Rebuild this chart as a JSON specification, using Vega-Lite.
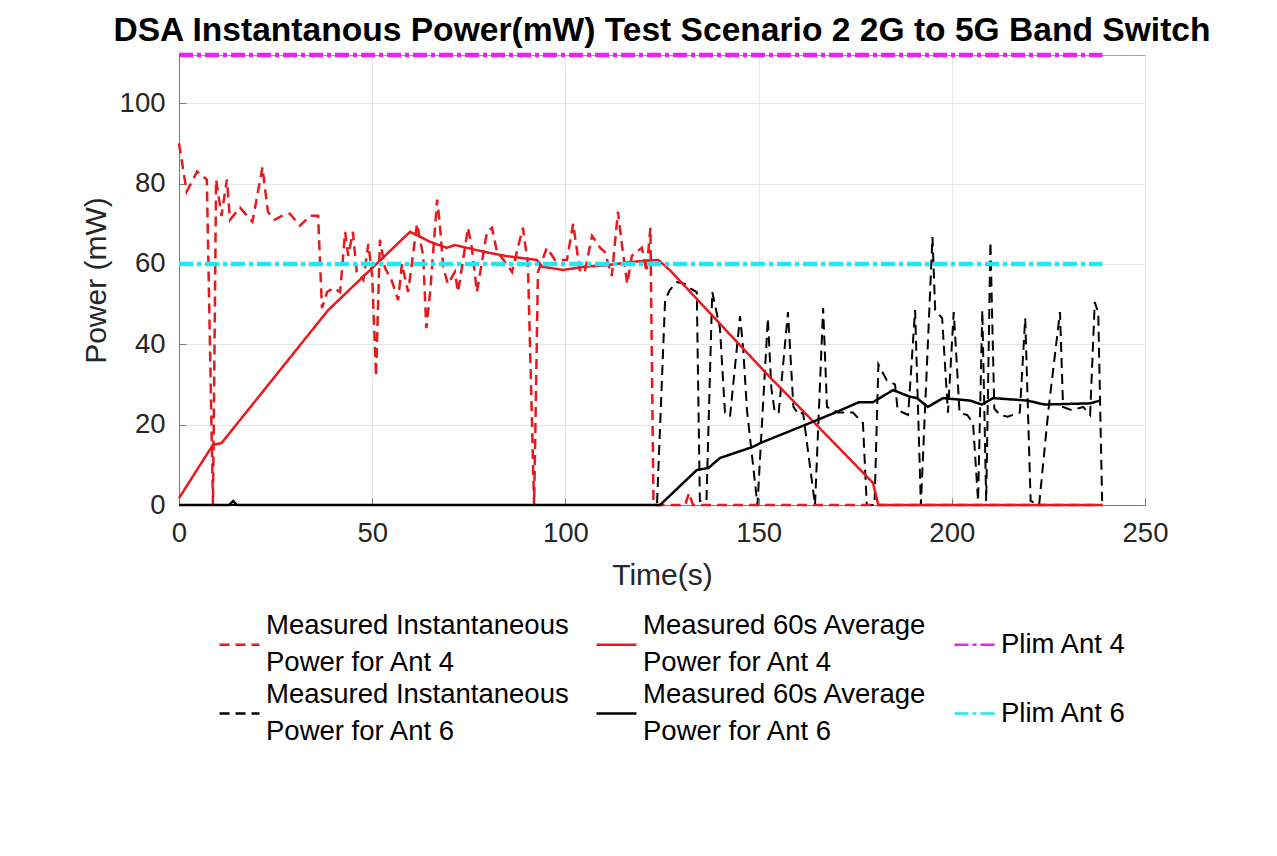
{
  "$schema": "https://vega.github.io/schema/vega-lite/v6.json",
  "width": 966,
  "height": 450,
  "autosize": "none",
  "padding": {"left": 179, "top": 55, "right": 132, "bottom": 351},
  "background": "white",
  "title": {"text": "DSA Instantanous Power(mW) Test Scenario 2 2G to 5G Band Switch", "font": "Liberation Sans", "fontSize": 33.6, "fontWeight": "bold", "color": "black", "anchor": "middle", "offset": -2},
  "config": {"view": {"stroke": "#a0a0a0", "strokeWidth": 1}, "font": "Liberation Sans"},
  "data": {"values": [
    {"series": "Measured Instantaneous|Power for Ant 4", "t": 0, "v": 90},
    {"series": "Measured Instantaneous|Power for Ant 4", "t": 2, "v": 78},
    {"series": "Measured Instantaneous|Power for Ant 4", "t": 4.7, "v": 83},
    {"series": "Measured Instantaneous|Power for Ant 4", "t": 7.2, "v": 81},
    {"series": "Measured Instantaneous|Power for Ant 4", "t": 8.8, "v": 0},
    {"series": "Measured Instantaneous|Power for Ant 4", "t": 9.6, "v": 81},
    {"series": "Measured Instantaneous|Power for Ant 4", "t": 11, "v": 72},
    {"series": "Measured Instantaneous|Power for Ant 4", "t": 12.4, "v": 81},
    {"series": "Measured Instantaneous|Power for Ant 4", "t": 13.2, "v": 71},
    {"series": "Measured Instantaneous|Power for Ant 4", "t": 15.8, "v": 74},
    {"series": "Measured Instantaneous|Power for Ant 4", "t": 19, "v": 70.5},
    {"series": "Measured Instantaneous|Power for Ant 4", "t": 21.6, "v": 84},
    {"series": "Measured Instantaneous|Power for Ant 4", "t": 23, "v": 73},
    {"series": "Measured Instantaneous|Power for Ant 4", "t": 24.8, "v": 71},
    {"series": "Measured Instantaneous|Power for Ant 4", "t": 26.7, "v": 72},
    {"series": "Measured Instantaneous|Power for Ant 4", "t": 28.7, "v": 72.5},
    {"series": "Measured Instantaneous|Power for Ant 4", "t": 31.3, "v": 69.5},
    {"series": "Measured Instantaneous|Power for Ant 4", "t": 34, "v": 72},
    {"series": "Measured Instantaneous|Power for Ant 4", "t": 36, "v": 72},
    {"series": "Measured Instantaneous|Power for Ant 4", "t": 37, "v": 49},
    {"series": "Measured Instantaneous|Power for Ant 4", "t": 38.3, "v": 53},
    {"series": "Measured Instantaneous|Power for Ant 4", "t": 40, "v": 54},
    {"series": "Measured Instantaneous|Power for Ant 4", "t": 41.7, "v": 53},
    {"series": "Measured Instantaneous|Power for Ant 4", "t": 43, "v": 68},
    {"series": "Measured Instantaneous|Power for Ant 4", "t": 43.8, "v": 62},
    {"series": "Measured Instantaneous|Power for Ant 4", "t": 45, "v": 68},
    {"series": "Measured Instantaneous|Power for Ant 4", "t": 46, "v": 58},
    {"series": "Measured Instantaneous|Power for Ant 4", "t": 47.7, "v": 56},
    {"series": "Measured Instantaneous|Power for Ant 4", "t": 49, "v": 65},
    {"series": "Measured Instantaneous|Power for Ant 4", "t": 50, "v": 57},
    {"series": "Measured Instantaneous|Power for Ant 4", "t": 51, "v": 32},
    {"series": "Measured Instantaneous|Power for Ant 4", "t": 52, "v": 66},
    {"series": "Measured Instantaneous|Power for Ant 4", "t": 53.3, "v": 59},
    {"series": "Measured Instantaneous|Power for Ant 4", "t": 55, "v": 56},
    {"series": "Measured Instantaneous|Power for Ant 4", "t": 56.7, "v": 51},
    {"series": "Measured Instantaneous|Power for Ant 4", "t": 57.7, "v": 60},
    {"series": "Measured Instantaneous|Power for Ant 4", "t": 59.3, "v": 53},
    {"series": "Measured Instantaneous|Power for Ant 4", "t": 61.6, "v": 70},
    {"series": "Measured Instantaneous|Power for Ant 4", "t": 63.2, "v": 62},
    {"series": "Measured Instantaneous|Power for Ant 4", "t": 64, "v": 44},
    {"series": "Measured Instantaneous|Power for Ant 4", "t": 65, "v": 53},
    {"series": "Measured Instantaneous|Power for Ant 4", "t": 66.8, "v": 76},
    {"series": "Measured Instantaneous|Power for Ant 4", "t": 67.5, "v": 70},
    {"series": "Measured Instantaneous|Power for Ant 4", "t": 68.4, "v": 59},
    {"series": "Measured Instantaneous|Power for Ant 4", "t": 69.6, "v": 55},
    {"series": "Measured Instantaneous|Power for Ant 4", "t": 71.4, "v": 58},
    {"series": "Measured Instantaneous|Power for Ant 4", "t": 72.2, "v": 53},
    {"series": "Measured Instantaneous|Power for Ant 4", "t": 73.2, "v": 59},
    {"series": "Measured Instantaneous|Power for Ant 4", "t": 74.8, "v": 69},
    {"series": "Measured Instantaneous|Power for Ant 4", "t": 75.8, "v": 64},
    {"series": "Measured Instantaneous|Power for Ant 4", "t": 77.1, "v": 53},
    {"series": "Measured Instantaneous|Power for Ant 4", "t": 79.7, "v": 68},
    {"series": "Measured Instantaneous|Power for Ant 4", "t": 81, "v": 69},
    {"series": "Measured Instantaneous|Power for Ant 4", "t": 82.3, "v": 63},
    {"series": "Measured Instantaneous|Power for Ant 4", "t": 84, "v": 61},
    {"series": "Measured Instantaneous|Power for Ant 4", "t": 86.2, "v": 58},
    {"series": "Measured Instantaneous|Power for Ant 4", "t": 87.7, "v": 64},
    {"series": "Measured Instantaneous|Power for Ant 4", "t": 89, "v": 69},
    {"series": "Measured Instantaneous|Power for Ant 4", "t": 90.3, "v": 60},
    {"series": "Measured Instantaneous|Power for Ant 4", "t": 91.9, "v": 0},
    {"series": "Measured Instantaneous|Power for Ant 4", "t": 92.9, "v": 58},
    {"series": "Measured Instantaneous|Power for Ant 4", "t": 95.2, "v": 64},
    {"series": "Measured Instantaneous|Power for Ant 4", "t": 97.3, "v": 61},
    {"series": "Measured Instantaneous|Power for Ant 4", "t": 100.4, "v": 61},
    {"series": "Measured Instantaneous|Power for Ant 4", "t": 102, "v": 70},
    {"series": "Measured Instantaneous|Power for Ant 4", "t": 103.8, "v": 58},
    {"series": "Measured Instantaneous|Power for Ant 4", "t": 105, "v": 58},
    {"series": "Measured Instantaneous|Power for Ant 4", "t": 106.9, "v": 67},
    {"series": "Measured Instantaneous|Power for Ant 4", "t": 109, "v": 64},
    {"series": "Measured Instantaneous|Power for Ant 4", "t": 110.2, "v": 63},
    {"series": "Measured Instantaneous|Power for Ant 4", "t": 112, "v": 57},
    {"series": "Measured Instantaneous|Power for Ant 4", "t": 113.6, "v": 73},
    {"series": "Measured Instantaneous|Power for Ant 4", "t": 114.6, "v": 65},
    {"series": "Measured Instantaneous|Power for Ant 4", "t": 116, "v": 55},
    {"series": "Measured Instantaneous|Power for Ant 4", "t": 117.2, "v": 62},
    {"series": "Measured Instantaneous|Power for Ant 4", "t": 119.8, "v": 64},
    {"series": "Measured Instantaneous|Power for Ant 4", "t": 121, "v": 58},
    {"series": "Measured Instantaneous|Power for Ant 4", "t": 122, "v": 69},
    {"series": "Measured Instantaneous|Power for Ant 4", "t": 122.8, "v": 0},
    {"series": "Measured Instantaneous|Power for Ant 4", "t": 131, "v": 0},
    {"series": "Measured Instantaneous|Power for Ant 4", "t": 132, "v": 3},
    {"series": "Measured Instantaneous|Power for Ant 4", "t": 133, "v": 0},
    {"series": "Measured Instantaneous|Power for Ant 4", "t": 239, "v": 0},

    {"series": "Measured 60s Average|Power for Ant 4", "t": 0, "v": 1.7},
    {"series": "Measured 60s Average|Power for Ant 4", "t": 8.8, "v": 15},
    {"series": "Measured 60s Average|Power for Ant 4", "t": 11, "v": 15.4},
    {"series": "Measured 60s Average|Power for Ant 4", "t": 38.6, "v": 48.5},
    {"series": "Measured 60s Average|Power for Ant 4", "t": 59.8, "v": 68},
    {"series": "Measured 60s Average|Power for Ant 4", "t": 65, "v": 65.5},
    {"series": "Measured 60s Average|Power for Ant 4", "t": 69.3, "v": 64},
    {"series": "Measured 60s Average|Power for Ant 4", "t": 71.4, "v": 64.7},
    {"series": "Measured 60s Average|Power for Ant 4", "t": 79, "v": 63},
    {"series": "Measured 60s Average|Power for Ant 4", "t": 84.4, "v": 62},
    {"series": "Measured 60s Average|Power for Ant 4", "t": 92.6, "v": 61},
    {"series": "Measured 60s Average|Power for Ant 4", "t": 94, "v": 59.3},
    {"series": "Measured 60s Average|Power for Ant 4", "t": 99.4, "v": 58.5},
    {"series": "Measured 60s Average|Power for Ant 4", "t": 105, "v": 59.3},
    {"series": "Measured 60s Average|Power for Ant 4", "t": 111, "v": 59.7},
    {"series": "Measured 60s Average|Power for Ant 4", "t": 117, "v": 60.5},
    {"series": "Measured 60s Average|Power for Ant 4", "t": 124, "v": 61},
    {"series": "Measured 60s Average|Power for Ant 4", "t": 127, "v": 58.5},
    {"series": "Measured 60s Average|Power for Ant 4", "t": 153.7, "v": 31},
    {"series": "Measured 60s Average|Power for Ant 4", "t": 154.8, "v": 30},
    {"series": "Measured 60s Average|Power for Ant 4", "t": 179.6, "v": 5.5},
    {"series": "Measured 60s Average|Power for Ant 4", "t": 181, "v": 0},
    {"series": "Measured 60s Average|Power for Ant 4", "t": 239, "v": 0},

    {"series": "Plim Ant 4", "t": 0, "v": 112},
    {"series": "Plim Ant 4", "t": 239, "v": 112},

    {"series": "Measured Instantaneous|Power for Ant 6", "t": 0, "v": 0},
    {"series": "Measured Instantaneous|Power for Ant 6", "t": 123.7, "v": 0},
    {"series": "Measured Instantaneous|Power for Ant 6", "t": 125.8, "v": 51},
    {"series": "Measured Instantaneous|Power for Ant 6", "t": 127, "v": 53.5},
    {"series": "Measured Instantaneous|Power for Ant 6", "t": 128.9, "v": 55.5},
    {"series": "Measured Instantaneous|Power for Ant 6", "t": 131, "v": 55},
    {"series": "Measured Instantaneous|Power for Ant 6", "t": 132.2, "v": 54},
    {"series": "Measured Instantaneous|Power for Ant 6", "t": 134, "v": 53},
    {"series": "Measured Instantaneous|Power for Ant 6", "t": 134.8, "v": 1},
    {"series": "Measured Instantaneous|Power for Ant 6", "t": 136.5, "v": 1},
    {"series": "Measured Instantaneous|Power for Ant 6", "t": 138, "v": 53},
    {"series": "Measured Instantaneous|Power for Ant 6", "t": 140, "v": 44},
    {"series": "Measured Instantaneous|Power for Ant 6", "t": 141.3, "v": 23},
    {"series": "Measured Instantaneous|Power for Ant 6", "t": 142.6, "v": 22},
    {"series": "Measured Instantaneous|Power for Ant 6", "t": 145.2, "v": 47},
    {"series": "Measured Instantaneous|Power for Ant 6", "t": 146, "v": 39},
    {"series": "Measured Instantaneous|Power for Ant 6", "t": 147, "v": 23.6},
    {"series": "Measured Instantaneous|Power for Ant 6", "t": 149.7, "v": 0},
    {"series": "Measured Instantaneous|Power for Ant 6", "t": 152.4, "v": 46.5},
    {"series": "Measured Instantaneous|Power for Ant 6", "t": 153.3, "v": 29},
    {"series": "Measured Instantaneous|Power for Ant 6", "t": 154.2, "v": 23},
    {"series": "Measured Instantaneous|Power for Ant 6", "t": 155.2, "v": 23},
    {"series": "Measured Instantaneous|Power for Ant 6", "t": 157.6, "v": 48},
    {"series": "Measured Instantaneous|Power for Ant 6", "t": 159, "v": 24.5},
    {"series": "Measured Instantaneous|Power for Ant 6", "t": 160.3, "v": 22.5},
    {"series": "Measured Instantaneous|Power for Ant 6", "t": 161.5, "v": 23},
    {"series": "Measured Instantaneous|Power for Ant 6", "t": 164.6, "v": 0},
    {"series": "Measured Instantaneous|Power for Ant 6", "t": 166.7, "v": 49},
    {"series": "Measured Instantaneous|Power for Ant 6", "t": 167.7, "v": 24.4},
    {"series": "Measured Instantaneous|Power for Ant 6", "t": 170.5, "v": 23},
    {"series": "Measured Instantaneous|Power for Ant 6", "t": 174.4, "v": 23},
    {"series": "Measured Instantaneous|Power for Ant 6", "t": 177, "v": 20.4},
    {"series": "Measured Instantaneous|Power for Ant 6", "t": 178, "v": 0},
    {"series": "Measured Instantaneous|Power for Ant 6", "t": 180, "v": 0},
    {"series": "Measured Instantaneous|Power for Ant 6", "t": 181, "v": 35},
    {"series": "Measured Instantaneous|Power for Ant 6", "t": 183.2, "v": 31},
    {"series": "Measured Instantaneous|Power for Ant 6", "t": 185.3, "v": 30},
    {"series": "Measured Instantaneous|Power for Ant 6", "t": 186, "v": 23.6},
    {"series": "Measured Instantaneous|Power for Ant 6", "t": 188.7, "v": 22.4},
    {"series": "Measured Instantaneous|Power for Ant 6", "t": 190.5, "v": 48.5},
    {"series": "Measured Instantaneous|Power for Ant 6", "t": 192, "v": 0},
    {"series": "Measured Instantaneous|Power for Ant 6", "t": 195, "v": 66.7},
    {"series": "Measured Instantaneous|Power for Ant 6", "t": 195.7, "v": 48.5},
    {"series": "Measured Instantaneous|Power for Ant 6", "t": 197.5, "v": 46.5},
    {"series": "Measured Instantaneous|Power for Ant 6", "t": 199, "v": 23},
    {"series": "Measured Instantaneous|Power for Ant 6", "t": 200.5, "v": 48},
    {"series": "Measured Instantaneous|Power for Ant 6", "t": 201.3, "v": 35},
    {"series": "Measured Instantaneous|Power for Ant 6", "t": 202, "v": 23},
    {"series": "Measured Instantaneous|Power for Ant 6", "t": 204, "v": 22.4},
    {"series": "Measured Instantaneous|Power for Ant 6", "t": 205.5, "v": 20.4},
    {"series": "Measured Instantaneous|Power for Ant 6", "t": 206.8, "v": 1},
    {"series": "Measured Instantaneous|Power for Ant 6", "t": 207.9, "v": 48.5},
    {"series": "Measured Instantaneous|Power for Ant 6", "t": 208.9, "v": 1},
    {"series": "Measured Instantaneous|Power for Ant 6", "t": 210, "v": 65.5},
    {"series": "Measured Instantaneous|Power for Ant 6", "t": 211, "v": 24},
    {"series": "Measured Instantaneous|Power for Ant 6", "t": 212.5, "v": 22.4},
    {"series": "Measured Instantaneous|Power for Ant 6", "t": 214.5, "v": 22},
    {"series": "Measured Instantaneous|Power for Ant 6", "t": 217.6, "v": 23},
    {"series": "Measured Instantaneous|Power for Ant 6", "t": 219, "v": 46.5},
    {"series": "Measured Instantaneous|Power for Ant 6", "t": 220.4, "v": 1},
    {"series": "Measured Instantaneous|Power for Ant 6", "t": 222.6, "v": 0},
    {"series": "Measured Instantaneous|Power for Ant 6", "t": 225, "v": 23.6},
    {"series": "Measured Instantaneous|Power for Ant 6", "t": 228, "v": 48},
    {"series": "Measured Instantaneous|Power for Ant 6", "t": 228.8, "v": 24.4},
    {"series": "Measured Instantaneous|Power for Ant 6", "t": 231, "v": 23.6},
    {"series": "Measured Instantaneous|Power for Ant 6", "t": 234, "v": 24.4},
    {"series": "Measured Instantaneous|Power for Ant 6", "t": 235.8, "v": 22.4},
    {"series": "Measured Instantaneous|Power for Ant 6", "t": 237, "v": 50.5},
    {"series": "Measured Instantaneous|Power for Ant 6", "t": 237.9, "v": 47.8},
    {"series": "Measured Instantaneous|Power for Ant 6", "t": 238.9, "v": 1},

    {"series": "Measured 60s Average|Power for Ant 6", "t": 0, "v": 0},
    {"series": "Measured 60s Average|Power for Ant 6", "t": 13, "v": 0},
    {"series": "Measured 60s Average|Power for Ant 6", "t": 14, "v": 1},
    {"series": "Measured 60s Average|Power for Ant 6", "t": 15, "v": 0},
    {"series": "Measured 60s Average|Power for Ant 6", "t": 124.5, "v": 0},
    {"series": "Measured 60s Average|Power for Ant 6", "t": 134, "v": 8.7},
    {"series": "Measured 60s Average|Power for Ant 6", "t": 137, "v": 9.2},
    {"series": "Measured 60s Average|Power for Ant 6", "t": 140, "v": 11.7},
    {"series": "Measured 60s Average|Power for Ant 6", "t": 148.6, "v": 14.5},
    {"series": "Measured 60s Average|Power for Ant 6", "t": 150.4, "v": 15.4},
    {"series": "Measured 60s Average|Power for Ant 6", "t": 164, "v": 20.7},
    {"series": "Measured 60s Average|Power for Ant 6", "t": 169.3, "v": 22.8},
    {"series": "Measured 60s Average|Power for Ant 6", "t": 176, "v": 25.6},
    {"series": "Measured 60s Average|Power for Ant 6", "t": 179.6, "v": 25.6},
    {"series": "Measured 60s Average|Power for Ant 6", "t": 184.8, "v": 28.6},
    {"series": "Measured 60s Average|Power for Ant 6", "t": 189, "v": 27},
    {"series": "Measured 60s Average|Power for Ant 6", "t": 191, "v": 26.6},
    {"series": "Measured 60s Average|Power for Ant 6", "t": 193.8, "v": 24.4},
    {"series": "Measured 60s Average|Power for Ant 6", "t": 197.7, "v": 26.6},
    {"series": "Measured 60s Average|Power for Ant 6", "t": 204.7, "v": 26},
    {"series": "Measured 60s Average|Power for Ant 6", "t": 207.8, "v": 25},
    {"series": "Measured 60s Average|Power for Ant 6", "t": 210.7, "v": 26.6},
    {"series": "Measured 60s Average|Power for Ant 6", "t": 219.5, "v": 26},
    {"series": "Measured 60s Average|Power for Ant 6", "t": 224, "v": 25},
    {"series": "Measured 60s Average|Power for Ant 6", "t": 235.8, "v": 25.3},
    {"series": "Measured 60s Average|Power for Ant 6", "t": 238.4, "v": 26},

    {"series": "Plim Ant 6", "t": 0, "v": 60},
    {"series": "Plim Ant 6", "t": 239, "v": 60}
  ]},
  "encoding": {
    "x": {"field": "t", "type": "quantitative",
      "scale": {"domain": [0, 250], "nice": false, "zero": false},
      "axis": {"title": "Time(s)", "values": [0, 50, 100, 150, 200, 250], "labelFlush": false, "grid": true, "gridColor": "#e6e6e6", "domainColor": "#7a7a7a", "tickColor": "#7a7a7a", "tickSize": -7, "labelPadding": 21, "labelFontSize": 27.5, "labelColor": "#262626", "titleFontSize": 30, "titleFontWeight": "normal", "titleColor": "#262626", "titlePadding": 14}},
    "y": {"field": "v", "type": "quantitative",
      "scale": {"domain": [0, 112], "nice": false},
      "axis": {"title": "Power (mW)", "values": [0, 20, 40, 60, 80, 100], "grid": true, "gridColor": "#e6e6e6", "domainColor": "#7a7a7a", "tickColor": "#7a7a7a", "tickSize": -7, "labelPadding": 21, "labelFontSize": 27.5, "labelColor": "#262626", "titleFontSize": 30, "titleFontWeight": "normal", "titleColor": "#262626", "titlePadding": 8}},
    "color": {"field": "series", "type": "nominal",
      "scale": {"domain": ["Measured Instantaneous|Power for Ant 4", "Measured 60s Average|Power for Ant 4", "Plim Ant 4", "Measured Instantaneous|Power for Ant 6", "Measured 60s Average|Power for Ant 6", "Plim Ant 6"],
        "range": ["#e8191c", "#e8191c", "#f01ef0", "#000000", "#000000", "#1ee8f0"]},
      "legend": {"title": null, "orient": "none", "legendX": 39, "legendY": 568, "direction": "horizontal", "columns": 3, "columnPadding": 22, "rowPadding": 4, "symbolType": "stroke", "symbolSize": 1600, "symbolStrokeWidth": 2.5, "labelFontSize": 27.5, "labelColor": "black", "labelOffset": 5, "labelLimit": 600, "labelExpr": "indexof(datum.label, 'Plim') == 0 ? ['', datum.label, ''] : split(datum.label, '|')", "encode": {"labels": {"update": {"dy": {"value": -18.5}, "lineHeight": {"signal": "indexof(datum.value, 'Plim') == 0 ? 18.5 : 37"}}}}}},
    "strokeDash": {"field": "series", "type": "nominal",
      "scale": {"domain": ["Measured Instantaneous|Power for Ant 4", "Measured 60s Average|Power for Ant 4", "Plim Ant 4", "Measured Instantaneous|Power for Ant 6", "Measured 60s Average|Power for Ant 6", "Plim Ant 6"],
        "range": [[10, 6], [1, 0], [14, 4, 4, 4], [10, 6], [1, 0], [14, 4, 4, 4]]},
      "legend": {"title": null, "orient": "none", "legendX": 39, "legendY": 568, "direction": "horizontal", "columns": 3, "columnPadding": 22, "rowPadding": 4, "symbolType": "stroke", "symbolSize": 1600, "symbolStrokeWidth": 2.5, "labelFontSize": 27.5, "labelColor": "black", "labelOffset": 5, "labelLimit": 600, "labelExpr": "indexof(datum.label, 'Plim') == 0 ? ['', datum.label, ''] : split(datum.label, '|')", "encode": {"labels": {"update": {"dy": {"value": -18.5}, "lineHeight": {"signal": "indexof(datum.value, 'Plim') == 0 ? 18.5 : 37"}}}}}}
  },
  "layer": [
    {"transform": [{"filter": "datum.series == 'Measured Instantaneous|Power for Ant 6'"}], "mark": {"type": "line", "strokeWidth": 2}},
    {"transform": [{"filter": "datum.series == 'Measured Instantaneous|Power for Ant 4'"}], "mark": {"type": "line", "strokeWidth": 2.5}},
    {"transform": [{"filter": "datum.series == 'Measured 60s Average|Power for Ant 4'"}], "mark": {"type": "line", "strokeWidth": 2.5}},
    {"transform": [{"filter": "datum.series == 'Measured 60s Average|Power for Ant 6'"}], "mark": {"type": "line", "strokeWidth": 2.5}},
    {"transform": [{"filter": "datum.series == 'Plim Ant 6'"}], "mark": {"type": "line", "strokeWidth": 4.5}},
    {"transform": [{"filter": "datum.series == 'Plim Ant 4'"}], "mark": {"type": "line", "strokeWidth": 4.5}}
  ]
}
